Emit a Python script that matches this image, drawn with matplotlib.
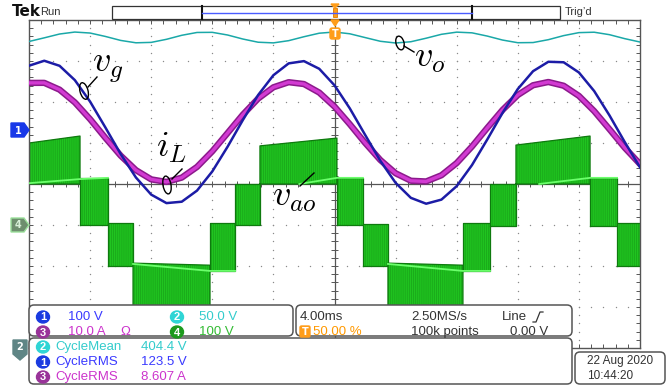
import matplotlib
matplotlib.use("Agg")
import matplotlib.pyplot as plt
import numpy as np
from matplotlib.patches import Ellipse, FancyBboxPatch, Polygon, Rectangle

plt.rcParams["mathtext.fontset"] = "cm"
plt.rcParams["hatch.linewidth"] = 0.6
UI_FONT = ["Liberation Sans Narrow", "Liberation Sans", "DejaVu Sans"]

# ---- data (screen divisions, 0 = centre line; time in ms, 4 ms/div) ----
t_ms = list(range(-20, 21))

# ch1 grid voltage v_g (100 V/div)
vg_div = [2.885, 3.006, 2.883, 2.534, 2.009, 1.379, 0.732, 0.159, -0.259, -0.466,
          -0.432, -0.161, 0.307, 0.909, 1.560, 2.170, 2.653, 2.942, 2.997, 2.810,
          2.407, 1.845, 1.201, 0.566, 0.028, -0.338, -0.481, -0.381, -0.052, 0.461,
          1.085, 1.734, 2.317, 2.752, 2.981, 2.969, 2.720, 2.267, 1.674, 1.024, 0.407]

# ch3 inductor current i_L (10 A/div)
il_div = [2.466, 2.467, 2.301, 1.991, 1.581, 1.126, 0.692, 0.338, 0.113, 0.050,
          0.156, 0.417, 0.797, 1.243, 1.692, 2.083, 2.359, 2.483, 2.438, 2.230,
          1.888, 1.459, 1.004, 0.585, 0.262, 0.079, 0.062, 0.213, 0.511, 0.914,
          1.367, 1.806, 2.170, 2.409, 2.488, 2.397, 2.149, 1.778, 1.336, 0.884, 0.486]

# ch2 output voltage v_o (50 V/div)
vo_div = [3.476, 3.565, 3.658, 3.706, 3.682, 3.599, 3.502, 3.444, 3.454, 3.529,
          3.627, 3.696, 3.699, 3.634, 3.536, 3.458, 3.442, 3.496, 3.592, 3.678,
          3.707, 3.664, 3.572, 3.481, 3.439, 3.470, 3.556, 3.651, 3.704, 3.687,
          3.608, 3.511, 3.446, 3.450, 3.520, 3.619, 3.692, 3.702, 3.642, 3.545, 3.463]

# ch4 v_ao switching bands
vao_edges_ms = [-20, -16.66, -14.83, -13.19, -8.15, -6.51, -4.88, 0.16, 1.86, 3.50,
                8.41, 10.18, 11.88, 16.73, 18.50, 20]
vao_top_start = [1.00, 0.15, -0.95, -1.93, -0.95, 0.00, 0.93, 0.15, -0.98, -1.93,
                 -0.95, 0.00, 0.95, 0.15, -0.95]
vao_top_end = [1.17, 0.15, -0.95, -1.98, -0.95, 0.00, 1.12, 0.15, -0.98, -1.98,
               -0.95, 0.00, 1.17, 0.15, -0.95]
vao_bottom = [0.0, -1.0, -2.0, -3.05, -2.12, -1.0, 0.0, -1.0, -2.0, -3.05,
              -2.12, -1.02, 0.0, -1.02, -2.0]
# bright (average) lines inside the bands
vao_glow_ms = [[-20, -16.66, -14.83], [-2.3, 0.16, 1.86], [13.4, 16.73, 18.50],
               [-13.19, -8.15, -6.51], [3.50, 8.41, 10.18]]
vao_glow_div = [[0.02, 0.12, 0.15], [0.0, 0.15, 0.15], [0.0, 0.15, 0.15],
                [-1.95, -2.12, -2.12], [-1.95, -2.12, -2.12]]

W, H = 671, 388
fig = plt.figure(figsize=(W / 100, H / 100), dpi=100)
fig.patch.set_facecolor("white")


def ms2div(v):
    return np.asarray(v, dtype=float) / 4.0 + 5.0


# ---- scope screen ----
ax = fig.add_axes([29 / W, 1 - 348 / H, 611 / W, 328 / H])
ax.set_xlim(0, 10)
ax.set_ylim(-4, 4)
ax.set_xticks([])
ax.set_yticks([])
for s in ax.spines.values():
    s.set_color("#555555")
    s.set_linewidth(1.0)

gx = np.arange(0, 10.001, 0.2)
gy = np.arange(-4, 4.001, 0.2)
for xv in range(1, 10):
    if xv != 5:
        ax.scatter(np.full_like(gy, xv), gy, s=1.0, color="#8a8a8a", lw=0, zorder=1)
for yv in range(-3, 4):
    if yv != 0:
        ax.scatter(gx, np.full_like(gx, yv), s=1.0, color="#8a8a8a", lw=0, zorder=1)
ax.axhline(0, color="#555555", lw=0.9, zorder=1)
ax.axvline(5, color="#555555", lw=0.9, zorder=1)
ax.vlines(gx, -0.07, 0.07, color="#555555", lw=0.7, zorder=1)
ax.hlines(gy, 5 - 0.05, 5 + 0.05, color="#555555", lw=0.7, zorder=1)
ax.vlines(gx, 4 - 0.1, 4, color="#555555", lw=0.7, zorder=1)
ax.vlines(gx, -4, -4 + 0.1, color="#555555", lw=0.7, zorder=1)
ax.hlines(gy, 0, 0.07, color="#555555", lw=0.7, zorder=1)
ax.hlines(gy, 10 - 0.07, 10, color="#555555", lw=0.7, zorder=1)

# v_ao bands
ex = ms2div(vao_edges_ms)
for i in range(len(vao_bottom)):
    xs = [ex[i], ex[i + 1]]
    ax.fill_between(xs, [vao_bottom[i]] * 2, [vao_top_start[i], vao_top_end[i]],
                    facecolor="#20c420", edgecolor="#19a819", hatch="||||||||",
                    linewidth=0, zorder=2)
    ax.plot([ex[i], ex[i], ex[i + 1], ex[i + 1], ex[i]],
            [vao_bottom[i], vao_top_start[i], vao_top_end[i], vao_bottom[i], vao_bottom[i]],
            color="#0e7a0e", lw=0.9, zorder=2)
for gxs, gys in zip(vao_glow_ms, vao_glow_div):
    ax.plot(ms2div(gxs), gys, color="#6cff6c", lw=1.3, zorder=3)

td = ms2div(t_ms)
ax.plot(td, vo_div, color="#1aa8a8", lw=1.1, zorder=4)
ax.plot(td, il_div, color="#8c1a8c", lw=4.6, solid_capstyle="round", zorder=4)
ax.plot(td, il_div, color="#d23ad2", lw=2.4, solid_capstyle="round", zorder=4)
ax.plot(td, vg_div, color="#1c1ca6", lw=1.8, zorder=5)

# ---- overlay (pixel coordinates) ----
ov = fig.add_axes([0, 0, 1, 1], zorder=5)
ov.set_xlim(0, W)
ov.set_ylim(H, 0)
ov.axis("off")


def ui(x, y, s, color="#333333", size=9.5, **kw):
    ov.text(x, y, s, color=color, fontsize=size, family=UI_FONT, va="center", **kw)


def badge(x, y, label, color, text_color="white"):
    ov.add_patch(Ellipse((x, y), 13, 12, facecolor=color, edgecolor=color, zorder=6))
    ov.text(x, y + 0.5, label, color=text_color, fontsize=8, family=UI_FONT,
            ha="center", va="center", fontweight="bold", zorder=7)


def panel(x, y, w, h):
    ov.add_patch(FancyBboxPatch((x, y), w, h, boxstyle="round,pad=0,rounding_size=5",
                                facecolor="white", edgecolor="#555555", lw=1.1, zorder=5))


# top bar
ov.text(12, 12, "Tek", fontsize=11, fontweight="bold", family=["DejaVu Sans"],
        va="center", color="#111111")
ui(40, 12, "Run", size=8)
ov.add_patch(Rectangle((112, 6), 448, 13, fill=False, edgecolor="#333333", lw=0.9))
ov.plot([202, 202], [6, 19], color="#111111", lw=1.5)
ov.plot([472, 472], [6, 19], color="#111111", lw=1.5)
ov.plot([202, 472], [12.5, 12.5], color="#4a5cff", lw=1.0)
ov.add_patch(Rectangle((333, 8), 4, 9, facecolor="#ff9d1a", edgecolor="#e07a00", lw=0.6))
ov.add_patch(Polygon([[331, 4], [339, 4], [335, 8]], closed=True, color="#ff9d1a"))
ui(565, 12, "Trig\u2019d", size=8)

# trigger marker on screen
ov.add_patch(Polygon([[331, 20], [339, 20], [335, 26]], closed=True, color="#ff9d1a", zorder=6))
ov.add_patch(FancyBboxPatch((330, 28), 10, 11, boxstyle="round,pad=0,rounding_size=2",
                            facecolor="#ff9d1a", edgecolor="#ff9d1a", zorder=6))
ov.text(335, 33.8, "T", color="white", fontsize=7, fontweight="bold", ha="center",
        va="center", zorder=7)

# channel markers at the left
ov.add_patch(Polygon([[11, 123], [24, 123], [29, 130], [24, 137], [11, 137]],
                     closed=True, facecolor="#1838e8", edgecolor="#1838e8", zorder=6))
ov.text(18, 130.5, "1", color="white", fontsize=7, fontweight="bold", ha="center",
        va="center", zorder=7)
ov.add_patch(Polygon([[11, 218], [24, 218], [29, 225], [24, 232], [11, 232]],
                     closed=True, facecolor="#6e8e6e", edgecolor="#9be09b", lw=1, zorder=6))
ov.text(18, 225.5, "4", color="#d8f0d8", fontsize=7, fontweight="bold", ha="center",
        va="center", zorder=7)
ov.add_patch(Polygon([[13, 340], [27, 340], [27, 354], [20, 360], [13, 354]],
                     closed=True, facecolor="#5f8585", edgecolor="#5f8585", zorder=6))
ov.text(20, 347.5, "2", color="white", fontsize=7, fontweight="bold", ha="center",
        va="center", zorder=7)

# trace labels
ov.add_patch(Ellipse((84, 91), 8, 17, angle=-15, fill=False, edgecolor="black", lw=1.0))
ov.plot([88, 97], [87, 77], color="black", lw=1.0)
ov.text(92, 68, r"$v_g$", fontsize=26, va="center", ha="left")
ov.add_patch(Ellipse((400, 43), 8, 14, angle=-15, fill=False, edgecolor="black", lw=1.0))
ov.plot([404, 414], [46, 52], color="black", lw=1.0)
ov.text(414, 58, r"$v_o$", fontsize=26, va="center", ha="left")
ov.add_patch(Ellipse((167, 185), 8, 18, angle=-10, fill=False, edgecolor="black", lw=1.0))
ov.plot([172, 182], [179, 169], color="black", lw=1.0)
ov.text(156, 148, r"$i_L$", fontsize=26, va="center", ha="left")
ov.plot([300, 314], [186, 173], color="black", lw=1.0)
ov.text(272, 197, r"$v_{ao}$", fontsize=26, va="center", ha="left")

# readout panels
panel(29, 305, 264, 31)
panel(296, 305, 276, 31)
panel(29, 338, 543, 46)
panel(575, 352, 90, 32)

badge(43, 317, "1", "#1a3be0")
ui(68, 317, "100 V", "#3a3aff", zorder=7)
badge(177, 317, "2", "#2fd5d5")
ui(199, 317, "50.0 V", "#33cccc", zorder=7)
badge(43, 332, "3", "#993399")
ui(68, 332, "10.0 A", "#cc33cc", zorder=7)
ui(120, 332, "\u03a9", "#cc33cc", zorder=7)
badge(177, 332, "4", "#1d9a1d")
ui(199, 332, "100 V", "#33bb33", zorder=7)

ui(300, 317, "4.00ms", zorder=7)
ui(411, 317, "2.50MS/s", zorder=7)
ui(502, 317, "Line", zorder=7)
ov.plot([533, 536, 540, 543], [322, 322, 312, 312], color="#333333", lw=0.9, zorder=7)
ov.add_patch(FancyBboxPatch((300, 326), 10, 11, boxstyle="round,pad=0,rounding_size=1.5",
                            facecolor="#ff9d1a", edgecolor="#ff9d1a", zorder=6))
ov.text(305, 332, "T", color="white", fontsize=7, fontweight="bold", ha="center",
        va="center", zorder=7)
ui(313, 332, "50.00 %", "#ff9900", zorder=7)
ui(411, 332, "100k points", zorder=7)
ui(510, 332, "0.00 V", zorder=7)

badge(43, 347, "2", "#2fd5d5")
ui(55, 347, "CycleMean", "#33cccc", zorder=7)
ui(141, 347, "404.4 V", "#33cccc", zorder=7)
badge(43, 362, "1", "#1a3be0")
ui(55, 362, "CycleRMS", "#3a3aff", zorder=7)
ui(141, 362, "123.5 V", "#3a3aff", zorder=7)
badge(43, 377, "3", "#993399")
ui(55, 377, "CycleRMS", "#cc33cc", zorder=7)
ui(141, 377, "8.607 A", "#cc33cc", zorder=7)

ui(587, 361, "22 Aug 2020", size=8.5, zorder=7)
ui(587, 376, "10:44:20", size=8.5, zorder=7)

fig.savefig("out.png", dpi=100)
